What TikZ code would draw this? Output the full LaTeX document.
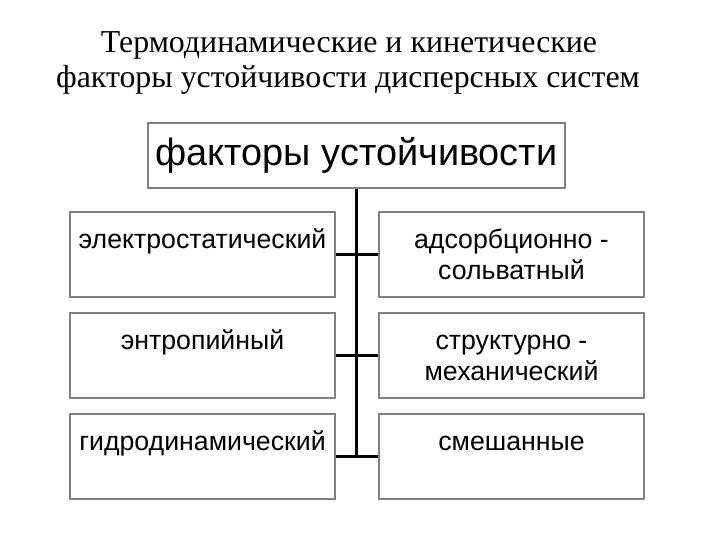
\documentclass[tikz,border=0pt]{standalone}
\usepackage{fontspec}
\setmainfont{Liberation Serif}
\setsansfont{Liberation Sans}
\usetikzlibrary{positioning}
\definecolor{frame}{RGB}{128,128,128}

\begin{document}
\begin{tikzpicture}[
        x=1bp, y=-1bp,
        fbox/.style={rectangle, draw=frame, line width=1.6bp, minimum width=265bp, minimum height=85bp, inner sep=0pt},
        ftext/.style={font=\sffamily\fontsize{26.8}{31}\selectfont, align=center, anchor=base, inner sep=0pt},
        ttext/.style={font=\fontsize{32}{35}\selectfont, anchor=base, inner sep=0pt},
        link/.style={line width=2.2bp, black},
    ]
        \useasboundingbox (0,0) rectangle (720,540);

        % Title
        \node[ttext] (TITLE1) at (349,53) {Термодинамические и кинетические};
        \node[ttext] (TITLE2) at (348,88) {факторы устойчивости дисперсных систем};

        % Main box
        \node[rectangle, draw=frame, line width=1.6bp, minimum width=417bp, minimum height=65bp,
              font=\sffamily\fontsize{38}{42}\selectfont] (MAIN) at (356.5,155.5) {факторы устойчивости};

        % Left column
        \node[fbox] (EL) at (202.5,254.5) {};
        \node[fbox] (EN) at (202.5,355.5) {};
        \node[fbox] (HY) at (202.5,456.5) {};
        % Right column
        \node[fbox] (AD) at (511.5,254.5) {};
        \node[fbox] (ST) at (511.5,355.5) {};
        \node[fbox] (MX) at (511.5,456.5) {};

        % Box texts (base = last line)
        \node[ftext] (ELT) at ([yshift=-37bp]EL.north) {электростатический};
        \node[ftext] (ENT) at ([yshift=-37bp]EN.north) {энтропийный};
        \node[ftext] (HYT) at ([yshift=-37bp]HY.north) {гидродинамический};
        \node[ftext] (ADT) at ([yshift=-68bp]AD.north) {адсорбционно -\\сольватный};
        \node[ftext] (STT) at ([yshift=-68bp]ST.north) {структурно -\\механический};
        \node[ftext] (MXT) at ([yshift=-37bp]MX.north) {смешанные};

        % Connectors
        \coordinate (J3) at (MAIN.south |- HY.east);
        \draw[link] (MAIN.south) -- (J3);
        \draw[link] (EL.east) -- (AD.west);
        \draw[link] (EN.east) -- (ST.west);
        \draw[link] (HY.east) -- (MX.west);
    \end{tikzpicture}
\end{document}
